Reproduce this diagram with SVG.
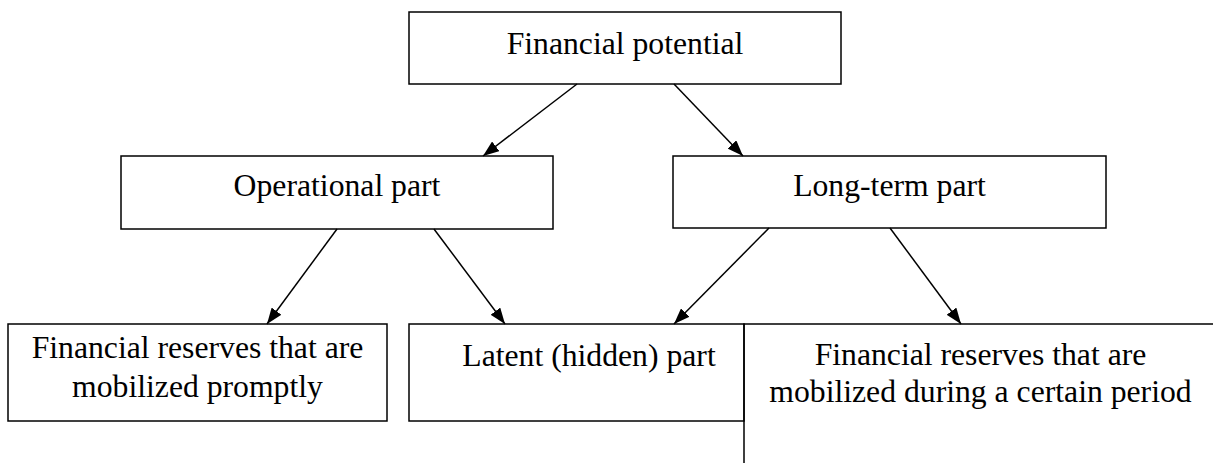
<svg xmlns="http://www.w3.org/2000/svg" width="1213" height="463" viewBox="0 0 1213 463">
<style>
.box{fill:#fff;stroke:#000;stroke-width:1.5}
.t{font-family:"Liberation Serif","Times New Roman",serif;font-size:31.7px;fill:#000;text-anchor:middle}
.c{stroke:#000;stroke-width:1.5;fill:none;marker-end:url(#ah)}
</style>
<defs>
<marker id="ah" markerUnits="userSpaceOnUse" markerWidth="16" markerHeight="12" viewBox="0 0 16 12" refX="16" refY="6" orient="auto">
<path d="M0,0 L16,6 L0,12 z" fill="#000"/>
</marker>
</defs>
<rect width="1213" height="463" fill="#fff"/>
<g id="n-financial-potential">
<rect class="box" x="409" y="12" width="432" height="72"/>
<text class="t" x="625" y="54">Financial potential</text>
</g>
<g id="n-operational">
<rect class="box" x="121" y="156" width="432" height="73"/>
<text class="t" x="337" y="196">Operational part</text>
</g>
<g id="n-longterm">
<rect class="box" x="673" y="156" width="433" height="72"/>
<text class="t" x="889.5" y="196">Long-term part</text>
</g>
<g id="n-prompt">
<rect class="box" x="8" y="324" width="379" height="97"/>
<text class="t" x="197.5" y="358">Financial reserves that are</text>
<text class="t" x="197.5" y="397">mobilized promptly</text>
</g>
<g id="n-latent">
<rect class="box" x="409" y="324" width="335" height="97"/>
<text class="t" x="589" y="366">Latent (hidden) part</text>
</g>
<g id="n-period">
<path d="M744,463 L744,324 L1213,324" fill="none" stroke="#000" stroke-width="1.5"/>
<text class="t" x="980.5" y="365">Financial reserves that are</text>
<text class="t" x="980.5" y="402">mobilized during a certain period</text>
</g>
<g id="connectors">
<line class="c" x1="577" y1="84" x2="483" y2="156"/>
<line class="c" x1="674" y1="84" x2="743" y2="156"/>
<line class="c" x1="337" y1="229" x2="267" y2="324"/>
<line class="c" x1="434" y1="229" x2="505" y2="324"/>
<line class="c" x1="769" y1="228" x2="674" y2="324"/>
<line class="c" x1="890" y1="228" x2="961" y2="324"/>
</g>
</svg>
